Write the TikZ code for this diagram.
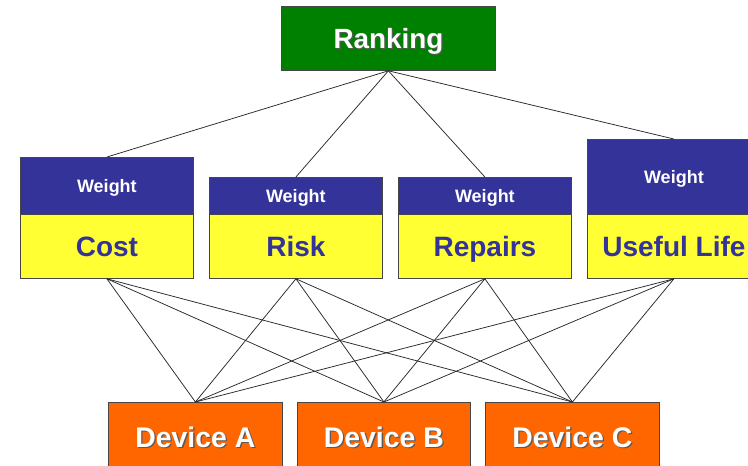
\documentclass[tikz,border=0pt]{standalone}
\usepackage{fontspec}
\setmainfont{Liberation Sans}
\definecolor{rankgreen}{RGB}{0,128,0}
\definecolor{weightblue}{RGB}{51,51,153}
\definecolor{crityellow}{RGB}{255,255,51}
\definecolor{devorange}{RGB}{255,102,0}
\definecolor{edgegray}{RGB}{70,70,70}
\definecolor{linkgray}{RGB}{40,40,40}
% white text with a soft drop shadow
\newcommand{\shadowed}[1]{\rlap{\kern1.3pt\raisebox{-1.3pt}{\color{black!65}#1}}#1}
\begin{document}
\begin{tikzpicture}[x=1pt,y=-1pt,
  box/.style={draw=edgegray, line width=0.8pt, inner sep=0pt, anchor=north west, text depth=0pt},
  rankbox/.style={box, fill=rankgreen, text=white, minimum width=214pt, minimum height=64pt,
    text height=19.8pt, font=\bfseries\fontsize{27.8}{30}\selectfont},
  weightbox/.style={box, fill=weightblue, text=white, minimum width=173pt,
    text height=13pt, font=\bfseries\fontsize{18}{20}\selectfont},
  critbox/.style={box, fill=crityellow, text=weightblue, minimum width=173pt, minimum height=64pt,
    text height=20pt, font=\bfseries\fontsize{28}{32}\selectfont},
  devbox/.style={box, fill=devorange, text=white, minimum width=174pt, minimum height=70pt,
    text height=20pt, font=\bfseries\fontsize{28.4}{31}\selectfont},
  link/.style={draw=linkgray, line width=0.75pt}]
\useasboundingbox (0,0) rectangle (748,466);
\clip (0,0) rectangle (748,466);

% goal
\node[rankbox] (rank) at (281,6) {\shadowed{Ranking}};

% criteria: weight header above criterion name
\node[weightbox, minimum height=57pt] (costW) at (20,157) {Weight};
\node[critbox] (cost) at (20,214) {Cost};
\node[weightbox, minimum height=37pt] (riskW) at (209,177) {Weight};
\node[critbox] (risk) at (209,214) {Risk};
\node[weightbox, minimum height=37pt] (repW) at (398,177) {Weight};
\node[critbox] (rep) at (398,214) {Repairs};
\node[weightbox, minimum height=75pt] (lifeW) at (587,139) {Weight};
\node[critbox] (life) at (587,214) {Useful Life};

% alternatives
\node[devbox] (devA) at (108,402) {\shadowed{Device A}};
\node[devbox, minimum width=173pt] (devB) at (297,402) {\shadowed{Device B}};
\node[devbox] (devC) at (485,402) {\shadowed{Device C}};

% goal to criteria
\foreach \c in {costW,riskW,repW,lifeW}
  \draw[link] (rank.south) -- (\c.north);

% criteria to alternatives
\foreach \c in {cost,risk,rep,life}
  \foreach \d in {devA,devB,devC}
    \draw[link] (\c.south) -- (\d.north);
\end{tikzpicture}
\end{document}
